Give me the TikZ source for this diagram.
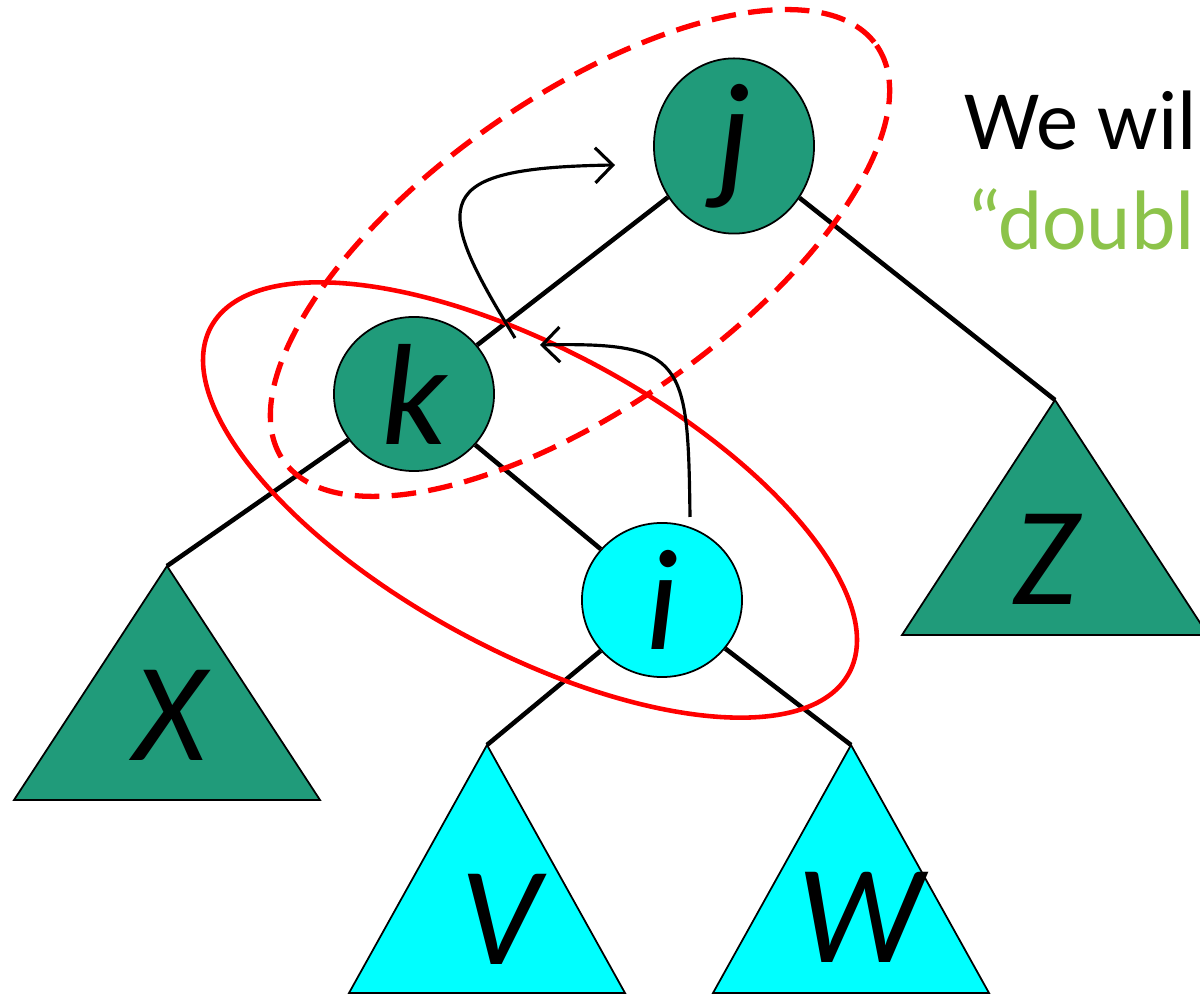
\documentclass[tikz,border=0pt]{standalone}
\usepackage{fontspec}
\setmainfont{Carlito}
\usepackage{tikz}
\usetikzlibrary{shapes.geometric,arrows.meta}
\definecolor{treegreen}{RGB}{32,155,122}
\definecolor{treecyan}{RGB}{0,255,255}
\definecolor{textgreen}{RGB}{140,195,74}

\begin{document}
\begin{tikzpicture}[x=0.01cm,y=-0.01cm,
  vertex/.style={ellipse,draw=black,line width=0.5pt,inner sep=0pt,
    minimum width=1.6cm,minimum height=1.54cm,font=\fontsize{41}{48}\selectfont\itshape},
  subtree/.style={draw=black,line width=0.5pt},
  sublabel/.style={inner sep=0pt,font=\fontsize{40}{48}\selectfont\itshape},
  edge/.style={line width=1.3pt},
  rotarrow/.style={line width=0.9pt,-{Straight Barb[length=5pt,width=10pt]}},
  balance/.style={draw=red,line width=1.3pt},
  saytext/.style={anchor=base west,inner sep=0pt,font=\fontsize{24}{29}\selectfont}]

\useasboundingbox (0,0) rectangle (1200,995);
\clip (0,0) rectangle (1200,995);

%   subtrees
\coordinate (xtop) at (167,566);
\coordinate (ztop) at (1055,400);
\coordinate (vtop) at (487,745);
\coordinate (wtop) at (851,745);
\filldraw[subtree,fill=treegreen] (xtop) -- ++(-153,234) -- ++(306,0) -- cycle;
\filldraw[subtree,fill=treegreen] (ztop) -- ++(-153,235) -- ++(306,0) -- cycle;
\filldraw[subtree,fill=treecyan] (vtop) -- ++(-138,248) -- ++(276,0) -- cycle;
\filldraw[subtree,fill=treecyan] (wtop) -- ++(-138,248) -- ++(276,0) -- cycle;
\node[sublabel] (xlab) at (170,715) {X};
\node[sublabel] (zlab) at (1045,559) {Z};
\node[sublabel] (vlab) at (500,919) {V};
\node[sublabel] (wlab) at (860,917) {W};

%   nodes
\node[vertex,fill=treegreen] (j) at (734,146) {j};
\node[vertex,fill=treegreen] (k) at (414,394) {k};
\node[vertex,fill=treecyan] (i) at (662,600) {i};

\draw[edge] (j) -- (k);
\draw[edge] (j) -- (ztop);
\draw[edge] (k) -- (xtop);
\draw[edge] (k) -- (i);
\draw[edge] (i) -- (vtop);
\draw[edge] (i) -- (wtop);

%   rotations
\draw[balance,dash pattern=on 7pt off 3.5pt,line width=1.5pt,rotate around={35:(580,253)}]
  (580,253) ellipse [x radius=362, y radius=155];
\draw[balance,rotate around={-28.5:(530,500)}]
  (530,500) ellipse [x radius=363, y radius=150];

\coordinate (kstart) at (515,338);
\coordinate (kend) at (615,165);
\coordinate (istart) at (690,517);
\coordinate (iend) at (540,345);
\draw[rotarrow] (kstart) .. controls (430,200) and (430,168) .. (kend);
\draw[rotarrow] (istart) .. controls (688,360) and (685,342) .. (iend);

\node[saytext] (say1) at (964,150) {We wil};
\node[saytext,text=textgreen] (say2) at (966,250) {“doubl};
\end{tikzpicture}
\end{document}
